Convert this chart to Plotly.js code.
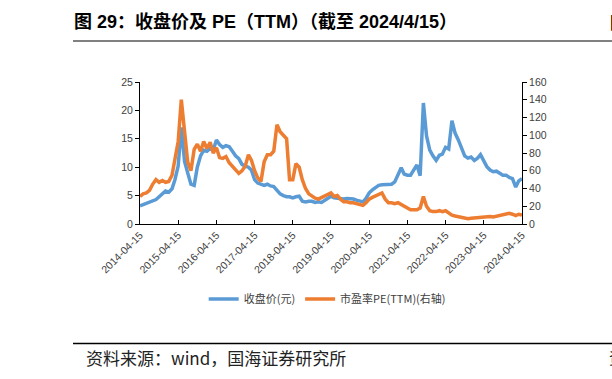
<!DOCTYPE html>
<html>
<head>
<meta charset="utf-8">
<script src="https://cdn.plot.ly/plotly-3.0.1.min.js"></script>
<style>html,body{margin:0;padding:0;background:#fff;}#chart{width:612px;height:379px;}</style>
</head>
<body>
<div id="chart"></div>
<script>
// Monthly samples starting 2014-04-15
const startYear = 2014, startMonth = 4;
const closePrice = [
  3.2,3.4,3.6,3.8,4.0,4.3,4.8,5.4,5.8,5.6,6.2,7.8,
  10.2,17.0,11.0,9.0,7.0,6.8,10.0,12.0,13.0,12.8,13.3,13.0,
  14.8,14.0,13.5,13.8,13.6,12.8,12.0,11.5,10.5,10.2,10.0,9.5,
  7.8,7.2,7.0,6.8,7.0,6.7,6.6,5.9,5.3,5.0,4.8,4.8,
  4.6,4.8,4.9,4.0,3.9,4.0,4.0,3.8,3.9,3.8,4.2,4.6,
  4.9,4.6,4.5,4.5,4.4,4.5,4.5,4.4,4.2,4.0,3.9,4.5,
  5.5,6.0,6.5,6.8,6.9,6.9,6.9,7.0,7.4,8.5,9.9,8.8,
  8.6,8.6,9.5,10.4,8.5,21.3,15.5,13.0,12.0,11.2,12.1,12.3,
  13.5,13.2,18.2,16.0,14.8,13.5,12.0,11.6,11.8,11.2,11.6,12.2,
  11.0,10.1,9.5,9.2,9.3,9.0,8.6,8.6,8.2,8.0,6.5,7.6,
  8.0
];
const peRatio = [
  31,34,35,38,45,50,47,49,47,48,55,74,
  93,140,100,70,60,84,90,82,93,85,92,80,
  86,75,74,76,69,65,61,57,60,65,78,72,
  60,52,48,70,78,78,82,112,104,100,96,50,
  50,68,64,50,40,34,31,29,28,30,31,33,
  35,31,32,28,25,25,24,24,23,22,21,24,
  28,30,32,34,35,28,24,24,23,24,22,21,
  19,16,16,16,18,31,20,15,14,14,15,14,
  15,12,10,9,8,7,6.5,6,6.5,7,7.5,8,
  7.5,8,8.5,8,9,9.5,10,11,12,11,9.5,11,
  10
];
const tickLabels = ['2014-04-15','2015-04-15','2016-04-15','2017-04-15','2018-04-15','2019-04-15','2020-04-15','2021-04-15','2022-04-15','2023-04-15','2024-04-15'];
const seriesNames = ['收盘价(元)','市盈率PE(TTM)(右轴)'];
const titleText = '图 29：收盘价及 PE（TTM）（截至 2024/4/15）';
const sourceText = '资料来源：wind，国海证券研究所';

const dates = [];
for (let i = 0; i < closePrice.length; i++) {
  const t = (startMonth - 1) + i;
  const y = startYear + Math.floor(t / 12);
  const m = (t % 12) + 1;
  dates.push(y + '-' + String(m).padStart(2,'0') + '-15');
}

// plot area in pixels
const L = 140, R = 522, T = 82, B = 224, W = 612, H = 379;
const px = x => (x - L) / (R - L);
const py = y => (B - y) / (B - T);

const tickFont = {family: 'Liberation Sans, Arial, sans-serif', size: 10.5, color: '#404040'};

const traces = [
  {x: dates, y: closePrice, name: seriesNames[0], type: 'scatter', mode: 'lines',
   line: {color: '#5B9BD5', width: 3.5}, yaxis: 'y'},
  {x: dates, y: peRatio, name: seriesNames[1], type: 'scatter', mode: 'lines',
   line: {color: '#ED7D31', width: 3.5}, yaxis: 'y2'}
];

const layout = {
  width: W, height: H,
  margin: {l: L, r: W - R, t: T, b: H - B},
  paper_bgcolor: '#fff', plot_bgcolor: '#fff',
  font: {family: 'Liberation Sans, Noto Sans CJK SC, sans-serif'},
  title: {
    text: titleText, xref: 'container', yref: 'container',
    x: 74 / W, xanchor: 'left', y: 1 - 22 / H, yanchor: 'middle',
    font: {family: 'Liberation Sans, Noto Sans CJK SC, sans-serif', size: 18, color: '#000', weight: 'bold'}
  },
  xaxis: {
    type: 'date', range: [tickLabels[0], tickLabels[tickLabels.length - 1]],
    tickvals: tickLabels, ticktext: tickLabels, tickangle: -45,
    ticks: 'inside', ticklen: 4, tickcolor: '#000',
    showline: true, linecolor: '#000', linewidth: 1,
    showgrid: false, zeroline: false, tickfont: tickFont
  },
  yaxis: {
    range: [0, 25], dtick: 5, ticks: 'outside', ticklen: 4, tickcolor: '#000',
    showline: true, linecolor: '#000', linewidth: 1,
    showgrid: false, zeroline: false, tickfont: tickFont
  },
  yaxis2: {
    range: [0, 160], dtick: 20, overlaying: 'y', side: 'right',
    ticks: 'outside', ticklen: 4, tickcolor: '#000',
    showline: true, linecolor: '#000', linewidth: 1,
    showgrid: false, zeroline: false, tickfont: tickFont
  },
  showlegend: true,
  legend: {
    orientation: 'h', x: 0.49, xanchor: 'center', y: py(299), yanchor: 'middle',
    font: {family: 'Noto Sans CJK SC, sans-serif', size: 11, color: '#404040'},
    itemwidth: 30, bgcolor: 'rgba(0,0,0,0)'
  },
  shapes: [
    {type: 'line', xref: 'paper', yref: 'paper', x0: px(73), x1: px(615), y0: py(41), y1: py(41),
     line: {color: '#808080', width: 2}},
    {type: 'line', xref: 'paper', yref: 'paper', x0: px(73), x1: px(615), y0: py(343.5), y1: py(343.5),
     line: {color: '#000', width: 1.5}}
  ],
  annotations: [
    {text: sourceText, xref: 'paper', yref: 'paper', x: px(84), y: py(357), xanchor: 'left', yanchor: 'middle',
     showarrow: false, font: {family: 'Noto Sans CJK SC, sans-serif', size: 17, color: '#222'}},
    {text: '图', xref: 'paper', yref: 'paper', x: px(608), y: py(22), xanchor: 'left', yanchor: 'middle',
     showarrow: false, font: {family: 'Noto Sans CJK SC, sans-serif', size: 17, color: '#000', weight: 'bold'}},
    {text: '资', xref: 'paper', yref: 'paper', x: px(607), y: py(357), xanchor: 'left', yanchor: 'middle',
     showarrow: false, font: {family: 'Noto Sans CJK SC, sans-serif', size: 16, color: '#222'}}
  ]
};

Plotly.newPlot('chart', traces, layout, {displayModeBar: false, staticPlot: true});
</script>
</body>
</html>
